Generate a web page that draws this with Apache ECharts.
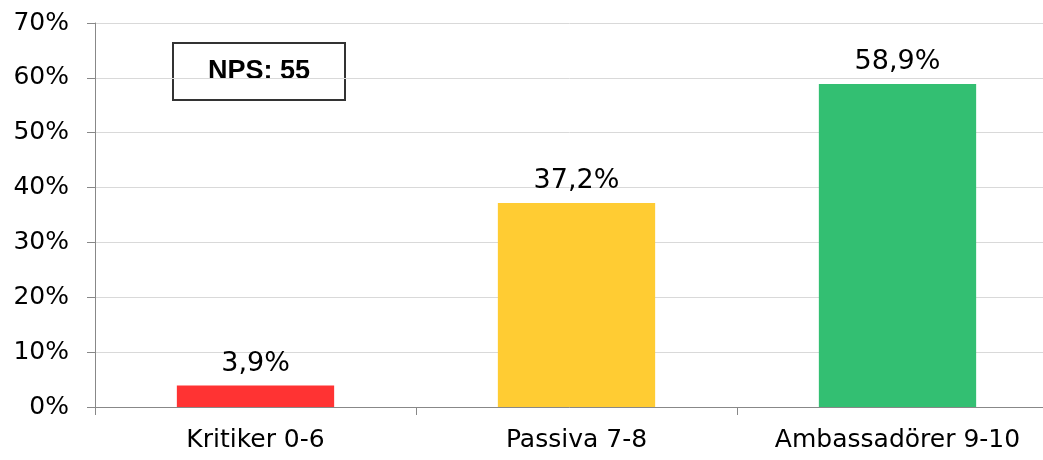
<!DOCTYPE html>
<html>
<head>
<meta charset="utf-8">
<script src="https://cdn.jsdelivr.net/npm/echarts@6/dist/echarts.min.js"></script>
<style>
    html, body { margin: 0; padding: 0; background: #fff; }
    #chart { width: 1043px; height: 460px; }
</style>
</head>
<body>
<div id="chart"></div>
<script>
const categories = ['Kritiker 0-6', 'Passiva 7-8', 'Ambassadörer 9-10'];
const values = [3.9, 37.2, 58.9];
const barColors = ['#ff3333', '#ffcc33', '#33bf72'];
const npsText = 'NPS: 55';

const font = '"DejaVu Sans", sans-serif';

let chart = echarts.init(document.getElementById('chart'));

let option = {
    animation: false,
    grid: {
        left: 95,
        top: 23,
        right: -15,
        bottom: 53,
        outerBoundsMode: 'none'
    },
    xAxis: {
        type: 'category',
        data: categories,
        axisLine: { lineStyle: { color: '#888', width: 1 } },
        axisTick: { show: true, length: 8, lineStyle: { color: '#888' } },
        axisLabel: { color: '#000', fontSize: 25, fontFamily: font, margin: 21 }
    },
    yAxis: {
        type: 'value',
        min: 0,
        max: 70,
        interval: 10,
        axisLine: { show: true, lineStyle: { color: '#888', width: 1 } },
        axisTick: { show: true, length: 8, lineStyle: { color: '#888' } },
        axisLabel: {
            color: '#000',
            fontSize: 25,
            fontFamily: font,
            margin: 26,
            formatter: (v) => v + '%'
        },
        splitLine: { lineStyle: { color: '#d9d9d9' } }
    },
    series: [
        {
            type: 'bar',
            barWidth: '49%',
            barCategoryGap: '51%',
            data: values.map((v, i) => ({ value: v, itemStyle: { color: barColors[i] } })),
            label: {
                show: true,
                position: 'top',
                distance: 8,
                color: '#000',
                fontSize: 27,
                fontFamily: font,
                formatter: (p) => p.value.toFixed(1).replace('.', ',') + '%'
            }
        }
    ],
    graphic: [
        {
            type: 'group',
            left: 172,
            top: 42,
            children: [
                {
                    type: 'rect',
                    shape: { x: 0, y: 0, width: 172, height: 57 },
                    style: { fill: '#fff', stroke: '#333', lineWidth: 2 }
                },
                {
                    type: 'text',
                    x: 86,
                    y: 29,
                    style: {
                        text: npsText,
                        fill: '#000',
                        font: 'bold 27px "Liberation Sans", sans-serif',
                        align: 'center',
                        verticalAlign: 'middle'
                    }
                }
            ]
        }
    ]
};
chart.setOption(option);
</script>
</body>
</html>
